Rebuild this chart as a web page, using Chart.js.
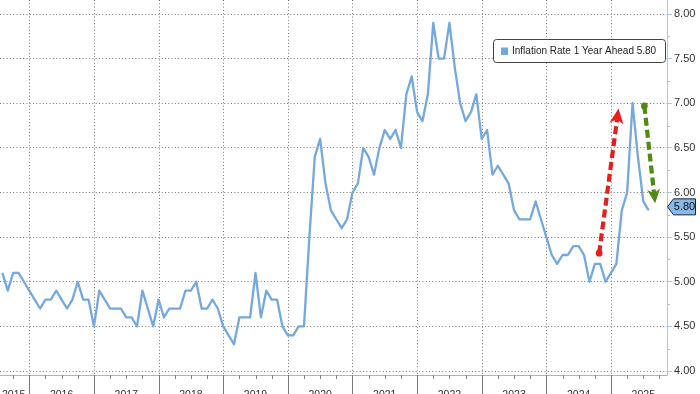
<!DOCTYPE html>
<html><head><meta charset="utf-8">
<script src="https://cdn.jsdelivr.net/npm/chart.js@4.4.1/dist/chart.umd.min.js"></script>
<style>html,body{margin:0;padding:0;background:#fff;}#wrap{width:700px;height:394px;position:relative;overflow:hidden;}</style>
</head><body><div id="wrap"><canvas id="c" width="700" height="394"></canvas></div>
<script>
// Monthly series, Jul 2015 .. Jul 2025
const seriesLabel = 'Inflation Rate 1 Year Ahead';
const yearLabels = ['2015','2016','2017','2018','2019','2020','2021','2022','2023','2024','2025'];
const v2015 = [5.1,4.9,5.1,5.1,5.0,4.9];
const v2016 = [4.8,4.7,4.8,4.8,4.9,4.8,4.7,4.8,5.0,4.8,4.8,4.5];
const v2017 = [4.9,4.8,4.7,4.7,4.7,4.6,4.6,4.5,4.9,4.7,4.5,4.8];
const v2018 = [4.6,4.7,4.7,4.7,4.9,4.9,5.0,4.7,4.7,4.8,4.7,4.5];
const v2019 = [4.4,4.3,4.6,4.6,4.6,5.1,4.6,4.9,4.8,4.8,4.5,4.4];
const v2020 = [4.4,4.5,4.5,5.5,6.4,6.6,6.1,5.8,5.7,5.6,5.7,6.0];
const v2021 = [6.1,6.5,6.4,6.2,6.5,6.7,6.6,6.7,6.5,7.1,7.3,6.9];
const v2022 = [6.8,7.1,7.9,7.5,7.5,7.9,7.4,7.0,6.8,6.9,7.1,6.6];
const v2023 = [6.7,6.2,6.3,6.2,6.1,5.8,5.7,5.7,5.7,5.9,5.7,5.5];
const v2024 = [5.3,5.2,5.3,5.3,5.4,5.4,5.3,5.0,5.2,5.2,5.0,5.1];
const v2025 = [5.2,5.8,6.0,7.0,6.4,5.9,5.8];
const values = [].concat(v2015,v2016,v2017,v2018,v2019,v2020,v2021,v2022,v2023,v2024,v2025);
const lastValue = 5.80;
// annotation arrows in data units: [month index, value]
const redArrowFrom = [110.8, 5.32], redArrowTo = [114.4, 6.94];
const greenArrowFrom = [119.2, 6.97], greenArrowTo = [121.2, 5.88];
// month index of each December (year boundaries)
const yearEnds = [5,17,29,41,53,65,77,89,101,113];

const FONT = '"Liberation Sans", Arial, sans-serif';
const LINE_COLOR = '#74a8de';

function arrow(ctx, x0, y0, x1, y1, color, headLen, headW) {
  const ang = Math.atan2(y1 - y0, x1 - x0);
  const c = Math.cos(ang), s = Math.sin(ang);
  const bx = x1 - headLen * c, by = y1 - headLen * s;
  const nx = x1 - headLen * 0.72 * c, ny = y1 - headLen * 0.72 * s;
  ctx.save();
  ctx.strokeStyle = color; ctx.fillStyle = color;
  ctx.lineWidth = 4.2; ctx.setLineDash([8, 4]);
  ctx.beginPath(); ctx.moveTo(x0, y0); ctx.lineTo(nx, ny); ctx.stroke();
  ctx.setLineDash([]);
  ctx.beginPath(); ctx.arc(x0, y0, 3.4, 0, Math.PI * 2); ctx.fill();
  const px = -s, py = c;
  ctx.beginPath();
  ctx.moveTo(x1, y1);
  ctx.lineTo(bx + px * headW / 2, by + py * headW / 2);
  ctx.lineTo(nx, ny);
  ctx.lineTo(bx - px * headW / 2, by - py * headW / 2);
  ctx.closePath(); ctx.fill();
  ctx.restore();
}

const deco = {
  id: 'deco',
  beforeDatasetsDraw(chart) {
    const {ctx, scales: {x, y}, chartArea: a} = chart;
    const axisY = a.bottom + 4;
    ctx.save();
    // vertical year gridlines (dotted)
    ctx.strokeStyle = '#777'; ctx.lineWidth = 1; ctx.setLineDash([1, 2.3]);
    yearEnds.forEach(i => {
      const px = Math.round(x.getPixelForValue(i)) + 0.5;
      ctx.beginPath(); ctx.moveTo(px, 0); ctx.lineTo(px, axisY); ctx.stroke();
    });
    ctx.setLineDash([]);
    // x axis line
    ctx.strokeStyle = '#a3b6ca';
    ctx.beginPath(); ctx.moveTo(0, axisY + 0.5); ctx.lineTo(a.right, axisY + 0.5); ctx.stroke();
    // year separators below axis
    ctx.strokeStyle = '#777';
    yearEnds.forEach(i => {
      const px = Math.round(x.getPixelForValue(i)) + 0.5;
      ctx.beginPath(); ctx.moveTo(px, axisY); ctx.lineTo(px, 394); ctx.stroke();
    });
    // quarter ticks
    ctx.strokeStyle = '#888';
    for (let i = -1; i <= 122; i += 3) {
      if (yearEnds.includes(i)) continue;
      const px = Math.round(x.getPixelForValue(i)) + 0.5;
      if (px < 0 || px > a.right) continue;
      ctx.beginPath(); ctx.moveTo(px, axisY); ctx.lineTo(px, axisY + 4); ctx.stroke();
    }
    // year labels
    ctx.fillStyle = '#333'; ctx.font = '10.5px ' + FONT; ctx.textBaseline = 'top'; ctx.textAlign = 'center';
    yearLabels.forEach((lab, k) => {
      let cx = x.getPixelForValue(-1 + 12 * k);
      const w = ctx.measureText(lab).width;
      if (cx - w / 2 < 2) cx = 2 + w / 2;
      ctx.fillText(lab, cx, 390);
    });
    // y axis line
    ctx.strokeStyle = '#a9c6e4';
    ctx.beginPath(); ctx.moveTo(a.right + 0.5, 0); ctx.lineTo(a.right + 0.5, axisY + 1); ctx.stroke();
    // minor y ticks
    for (let v = 4.25; v < 8; v += 0.5) {
      const py = Math.round(y.getPixelForValue(v)) + 0.5;
      ctx.beginPath(); ctx.moveTo(a.right, py); ctx.lineTo(a.right + 3, py); ctx.stroke();
    }
    ctx.restore();
  },
  afterDatasetsDraw(chart) {
    const {ctx, scales: {x, y}, chartArea: a} = chart;
    arrow(ctx, x.getPixelForValue(redArrowFrom[0]), y.getPixelForValue(redArrowFrom[1]),
      x.getPixelForValue(redArrowTo[0]), y.getPixelForValue(redArrowTo[1]), '#e3201c', 15, 14);
    arrow(ctx, x.getPixelForValue(greenArrowFrom[0]), y.getPixelForValue(greenArrowFrom[1]),
      x.getPixelForValue(greenArrowTo[0]), y.getPixelForValue(greenArrowTo[1]), '#4f8a12', 14, 13);
    // legend box
    ctx.save();
    const bx = 493.5, by = 39.5, bw = 172, bh = 23;
    ctx.beginPath(); ctx.roundRect(bx, by, bw, bh, 3);
    ctx.fillStyle = '#fff'; ctx.fill();
    ctx.strokeStyle = '#444'; ctx.lineWidth = 1; ctx.stroke();
    ctx.fillStyle = '#6fa8e0'; ctx.fillRect(501, 47.5, 7, 7.5);
    ctx.fillStyle = '#222'; ctx.font = '10px ' + FONT; ctx.textBaseline = 'middle'; ctx.textAlign = 'left';
    ctx.fillText(seriesLabel + ' ' + lastValue.toFixed(2), 512, 51.5);
    // last value tag
    const ty = y.getPixelForValue(lastValue) - 3.5;
    const tx = a.right + 0.5;
    ctx.beginPath();
    ctx.moveTo(tx, ty);
    ctx.lineTo(tx + 6, ty - 8);
    ctx.lineTo(695.5, ty - 8);
    ctx.lineTo(695.5, ty + 8);
    ctx.lineTo(tx + 6, ty + 8);
    ctx.closePath();
    ctx.fillStyle = '#86b9ec'; ctx.fill();
    ctx.strokeStyle = '#1c2333'; ctx.lineWidth = 1; ctx.stroke();
    ctx.fillStyle = '#111'; ctx.font = '11px ' + FONT; ctx.textAlign = 'center'; ctx.textBaseline = 'middle';
    ctx.fillText(lastValue.toFixed(2), 684.5, ty + 0.5);
    ctx.restore();
  }
};

new Chart(document.getElementById('c'), {
  type: 'line',
  data: {
    datasets: [{
      label: seriesLabel,
      data: values.map((v, i) => ({x: i, y: v})),
      borderColor: LINE_COLOR, borderWidth: 2.3, pointRadius: 0, tension: 0, fill: false,
      borderJoinStyle: 'round'
    }]
  },
  options: {
    responsive: false, animation: false, devicePixelRatio: 1,
    layout: {padding: {left: 0, right: 0, top: 14, bottom: 23}},
    plugins: {legend: {display: false}, tooltip: {enabled: false}},
    scales: {
      x: {type: 'linear', min: -0.44, max: 123.4, display: false},
      y: {
        position: 'right', min: 4, max: 8,
        afterFit(s) { s.width = 33; },
        ticks: {stepSize: 0.5, callback: v => Number(v).toFixed(2), color: '#333',
          font: {family: FONT, size: 11}, padding: 2},
        grid: {color: '#777', lineWidth: 1, tickLength: 5, tickColor: '#a9c6e4', tickBorderDash: []},
        border: {display: false, dash: [1, 2.3]}
      }
    }
  },
  plugins: [deco]
});
</script></body></html>
